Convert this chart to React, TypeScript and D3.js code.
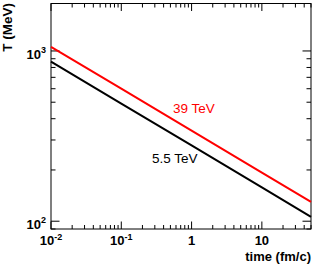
import React from 'react';
import * as d3 from 'd3';

// time (fm/c) sample points
const times = [0.01, 0.1, 1, 10, 50];
const temp39TeV = [1056, 600, 340, 193, 130];
const temp55TeV = [865, 491, 279, 158, 106];

const xMajorTicks = [0.01, 0.1, 1, 10];
const xTickBase = ['10', '10', '1', '10'];
const xTickExp = ['-2', '-1', '', ''];
const yMajorTicks = [100, 1000];
const yTickExp = ['2', '3'];

const W = 315;
const H = 265;
const margin = { top: 3.5, right: 4, bottom: 36, left: 51 };

export default function App() {
  const x = d3.scaleLog().domain([0.01, 50]).range([margin.left, W - margin.right]);
  const y = d3.scaleLog().domain([90, 1900]).range([H - margin.bottom, margin.top]);
  const x0 = margin.left, x1 = W - margin.right;
  const y0 = H - margin.bottom, y1 = margin.top;

  const line = d3
    .line<number>()
    .x((_, i) => x(times[i]))
    .y(d => y(d));

  const isMajor = (v: number, majors: number[]) => majors.some(m => Math.abs(m - v) / m < 1e-6);
  const xTicks = x.ticks().filter(v => v > 0.01 * 0.999 && v <= 50);
  const yTicks = y.ticks().filter(v => v >= 90 && v <= 1900);

  const bold = { fontFamily: 'Liberation Sans, Arial, sans-serif', fontWeight: 'bold' as const };
  const reg = { fontFamily: 'Liberation Sans, Arial, sans-serif' };

  return (
    <svg width={W} height={H} style={{ position: 'absolute', left: 0, top: 0 }}>
      <rect x={0} y={0} width={W} height={H} fill="#fff" />

      {/* ticks on all four sides, pointing inward */}
      {xTicks.map(v => {
        const len = isMajor(v, xMajorTicks) ? 7.5 : 4;
        return (
          <g key={'xt' + v} stroke="#000" strokeWidth={1}>
            <line x1={x(v)} x2={x(v)} y1={y0} y2={y0 - len} />
            <line x1={x(v)} x2={x(v)} y1={y1} y2={y1 + len} />
          </g>
        );
      })}
      {yTicks.map(v => {
        const len = isMajor(v, yMajorTicks) ? 8.5 : 4.5;
        return (
          <g key={'yt' + v} stroke="#000" strokeWidth={1}>
            <line x1={x0} x2={x0 + len} y1={y(v)} y2={y(v)} />
            <line x1={x1} x2={x1 - len} y1={y(v)} y2={y(v)} />
          </g>
        );
      })}

      {/* frame */}
      <rect x={x0} y={y1} width={x1 - x0} height={y0 - y1} fill="none" stroke="#000" strokeWidth={1} />

      {/* curves */}
      <path d={line(temp39TeV) || ''} fill="none" stroke="#ff0000" strokeWidth={2} />
      <path d={line(temp55TeV) || ''} fill="none" stroke="#000" strokeWidth={2} />

      {/* x tick labels */}
      {xMajorTicks.map((v, i) => (
        <text key={'xl' + v} x={x(v)} y={245} textAnchor="middle" fontSize={13} style={bold}>
          {xTickBase[i]}
          {xTickExp[i] && (
            <tspan fontSize={9} dy={-5}>{xTickExp[i]}</tspan>
          )}
        </text>
      ))}

      {/* y tick labels */}
      {yMajorTicks.map((v, i) => (
        <text key={'yl' + v} x={46} y={y(v) + 8} textAnchor="end" fontSize={13} style={bold}>
          10
          <tspan fontSize={9} dy={-6}>{yTickExp[i]}</tspan>
        </text>
      ))}

      {/* axis titles */}
      <text x={311} y={261} textAnchor="end" fontSize={13} style={bold}>time (fm/c)</text>
      <text transform="translate(11.5,3) rotate(-90)" textAnchor="end" fontSize={13.5} style={bold}>T (MeV)</text>

      {/* series labels */}
      <text x={173} y={113} fontSize={13.5} fill="#ff0000" style={reg}>39 TeV</text>
      <text x={152} y={163} fontSize={13.5} fill="#000" style={reg}>5.5 TeV</text>
    </svg>
  );
}
